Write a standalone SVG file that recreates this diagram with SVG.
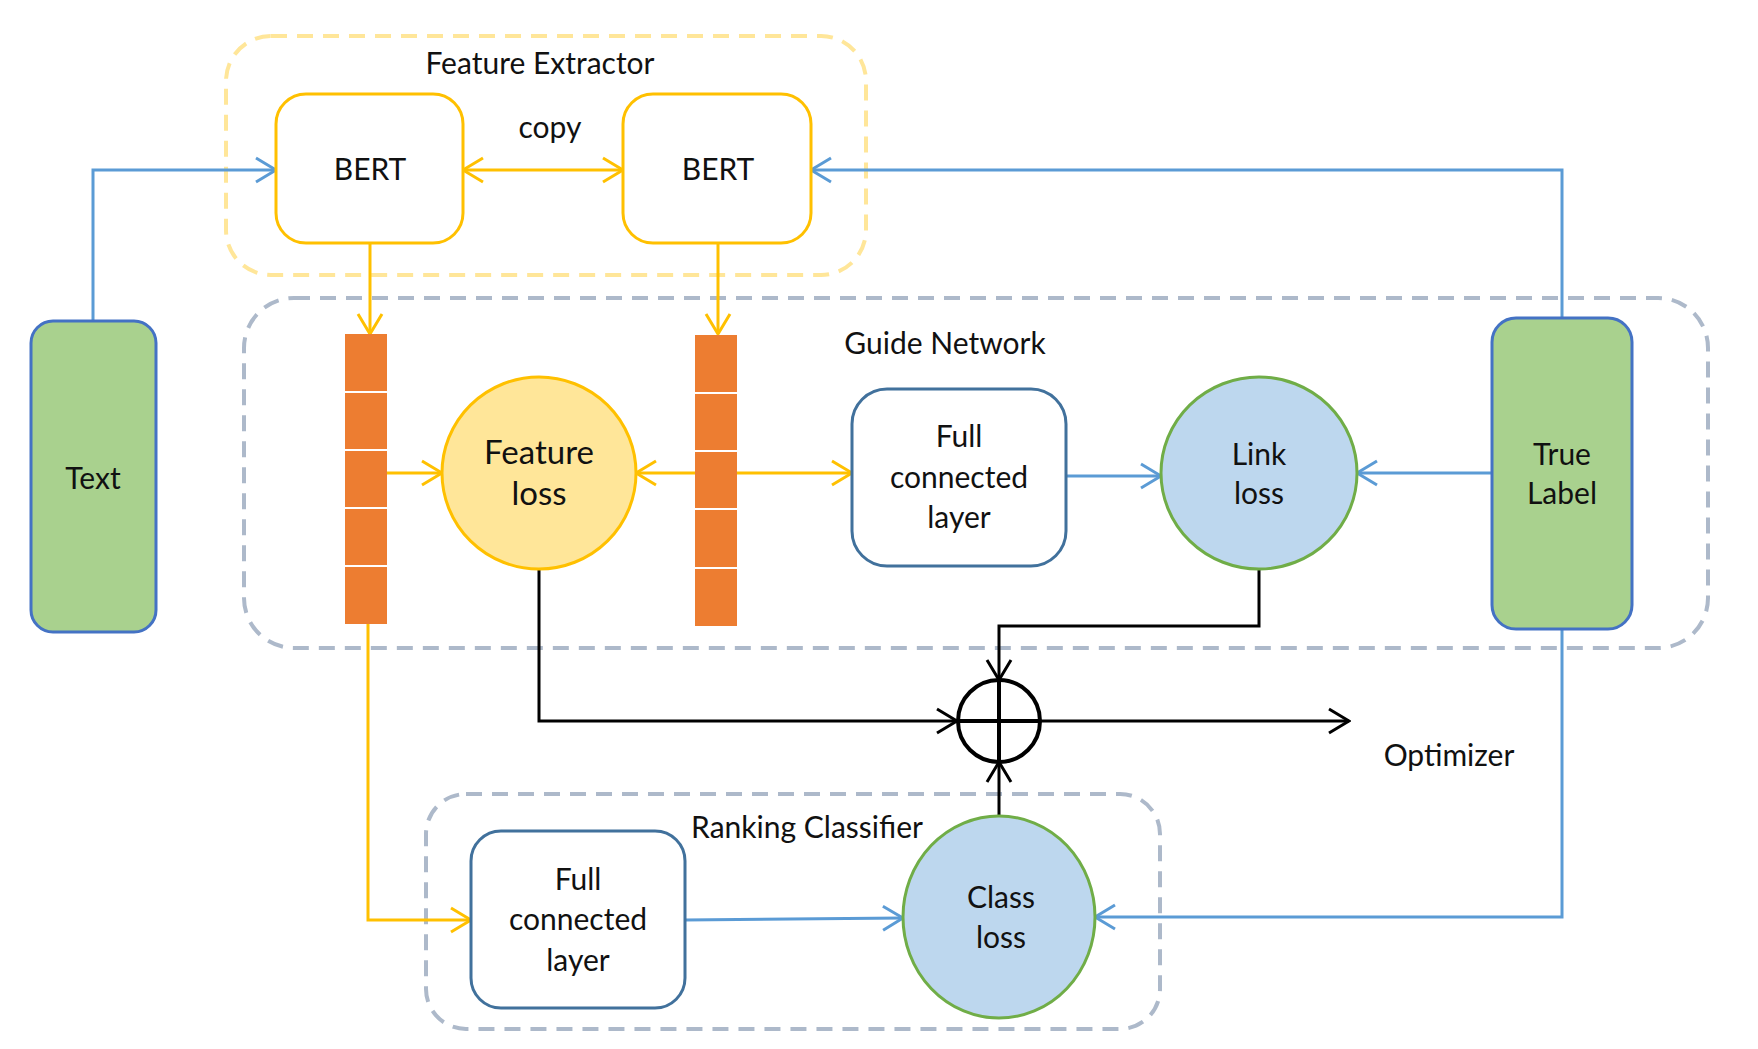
<svg xmlns="http://www.w3.org/2000/svg" width="1758" height="1049" viewBox="0 0 1758 1049">
<style>
text{font-family:Lato,"Liberation Sans",sans-serif;font-size:30px;fill:#111;text-anchor:middle}
.big{font-size:33px}
.gdash{fill:none;stroke:#ADB9CA;stroke-width:4;stroke-dasharray:16 10}
.ydash{fill:none;stroke:#FFE699;stroke-width:4;stroke-dasharray:16 10}
.bert{fill:#fff;stroke:#FFC000;stroke-width:3}
.fc{fill:#fff;stroke:#41719C;stroke-width:3}
.green{fill:#A9D18E;stroke:#4472C4;stroke-width:3}
.bar{fill:#ED7D31}
.div{stroke:#fff;stroke-width:2}
.yl{fill:none;stroke:#FFC000;stroke-width:3}
.bl{fill:none;stroke:#5B9BD5;stroke-width:3}
.kl{fill:none;stroke:#000;stroke-width:3}
</style>
<defs>
<marker id="ay" viewBox="0 0 24 28" refX="22" refY="14" markerWidth="24" markerHeight="28" markerUnits="userSpaceOnUse" orient="auto-start-reverse"><path d="M2,2 L22,14 L2,26" fill="none" stroke="#FFC000" stroke-width="3"/></marker>
<marker id="ab" viewBox="0 0 24 28" refX="22" refY="14" markerWidth="24" markerHeight="28" markerUnits="userSpaceOnUse" orient="auto-start-reverse"><path d="M2,2 L22,14 L2,26" fill="none" stroke="#5B9BD5" stroke-width="3"/></marker>
<marker id="ak" viewBox="0 0 24 28" refX="22" refY="14" markerWidth="24" markerHeight="28" markerUnits="userSpaceOnUse" orient="auto-start-reverse"><path d="M2,2 L22,14 L2,26" fill="none" stroke="#000" stroke-width="3"/></marker>
</defs>
<rect width="1758" height="1049" fill="#fff"/>

<g id="feature-extractor">
<rect class="ydash" x="226" y="36" width="640" height="239" rx="45"/>
<text x="540" y="74">Feature Extractor</text>
</g>
<g id="guide-network">
<rect class="gdash" x="244" y="298" width="1464" height="350" rx="50"/>
<text x="945" y="354">Guide Network</text>
</g>
<g id="ranking-classifier">
<rect class="gdash" x="426" y="794" width="734" height="235" rx="40"/>
<text x="807" y="838">Ranking Classifier</text>
</g>

<g id="connectors">
<line class="yl" x1="463" y1="170" x2="623" y2="170" marker-start="url(#ay)" marker-end="url(#ay)"/>
<polyline class="bl" points="93,321 93,170 276,170" marker-end="url(#ab)"/>
<polyline class="bl" points="1562,318 1562,170 811,170" marker-end="url(#ab)"/>
<line class="yl" x1="370" y1="243" x2="370" y2="334" marker-end="url(#ay)"/>
<line class="yl" x1="718" y1="243" x2="718" y2="334" marker-end="url(#ay)"/>
<line class="yl" x1="387" y1="473" x2="442" y2="473" marker-end="url(#ay)"/>
<line class="yl" x1="695" y1="473" x2="636" y2="473" marker-end="url(#ay)"/>
<line class="yl" x1="737" y1="473" x2="852" y2="473" marker-end="url(#ay)"/>
<line class="bl" x1="1066" y1="476" x2="1161" y2="476" marker-end="url(#ab)"/>
<line class="bl" x1="1492" y1="473" x2="1357" y2="473" marker-end="url(#ab)"/>
<polyline class="bl" points="1562,629 1562,917 1095,917" marker-end="url(#ab)"/>
<polyline class="yl" points="368,624 368,920 471,920" marker-end="url(#ay)"/>
<line class="bl" x1="685" y1="920" x2="903" y2="918" marker-end="url(#ab)"/>
<polyline class="kl" points="1259,569 1259,626 999,626 999,680" marker-end="url(#ak)"/>
<polyline class="kl" points="539,569 539,721 957,721" marker-end="url(#ak)"/>
<line class="kl" x1="999" y1="816" x2="999" y2="762" marker-end="url(#ak)"/>
<line class="kl" x1="1041" y1="721" x2="1349" y2="721" marker-end="url(#ak)"/>
</g>

<g id="bert-left">
<rect class="bert" x="276" y="94" width="187" height="149" rx="30"/>
<text x="370" y="180">BERT</text>
</g>
<g id="bert-right">
<rect class="bert" x="623" y="94" width="188" height="149" rx="30"/>
<text x="718" y="180">BERT</text>
</g>
<g id="copy-label"><text x="550" y="138">copy</text></g>

<g id="text-node">
<rect class="green" x="31" y="321" width="125" height="311" rx="22"/>
<text x="93" y="489">Text</text>
</g>
<g id="true-label">
<rect class="green" x="1492" y="318" width="140" height="311" rx="24"/>
<text x="1562" y="465">True</text>
<text x="1562" y="504">Label</text>
</g>

<g id="vector-left">
<rect class="bar" x="345" y="334" width="42" height="290"/>
<line class="div" x1="345" y1="392" x2="387" y2="392"/>
<line class="div" x1="345" y1="450" x2="387" y2="450"/>
<line class="div" x1="345" y1="508" x2="387" y2="508"/>
<line class="div" x1="345" y1="566" x2="387" y2="566"/>
</g>
<g id="vector-right">
<rect class="bar" x="695" y="335" width="42" height="291"/>
<line class="div" x1="695" y1="393" x2="737" y2="393"/>
<line class="div" x1="695" y1="451" x2="737" y2="451"/>
<line class="div" x1="695" y1="509" x2="737" y2="509"/>
<line class="div" x1="695" y1="568" x2="737" y2="568"/>
</g>

<g id="feature-loss">
<ellipse cx="539" cy="473" rx="97" ry="96" fill="#FFE699" stroke="#FFC000" stroke-width="3"/>
<text class="big" x="539" y="464">Feature</text>
<text class="big" x="539" y="505">loss</text>
</g>
<g id="fc-top">
<rect class="fc" x="852" y="389" width="214" height="177" rx="35"/>
<text x="959" y="447">Full</text>
<text x="959" y="488">connected</text>
<text x="959" y="528">layer</text>
</g>
<g id="link-loss">
<ellipse cx="1259" cy="473" rx="98" ry="96" fill="#BDD7EE" stroke="#70AD47" stroke-width="3"/>
<text x="1259" y="465">Link</text>
<text x="1259" y="504">loss</text>
</g>
<g id="sum">
<circle cx="999" cy="721" r="41" fill="#fff" stroke="#000" stroke-width="4"/>
<line x1="958" y1="721" x2="1040" y2="721" stroke="#000" stroke-width="4"/>
<line x1="999" y1="680" x2="999" y2="762" stroke="#000" stroke-width="4"/>
</g>
<g id="optimizer"><text x="1449" y="766">Optimizer</text></g>
<g id="fc-bottom">
<rect class="fc" x="471" y="831" width="214" height="177" rx="30"/>
<text x="578" y="890">Full</text>
<text x="578" y="930">connected</text>
<text x="578" y="971">layer</text>
</g>
<g id="class-loss">
<ellipse cx="999" cy="917" rx="96" ry="101" fill="#BDD7EE" stroke="#70AD47" stroke-width="3"/>
<text x="1001" y="908">Class</text>
<text x="1001" y="948">loss</text>
</g>
</svg>
